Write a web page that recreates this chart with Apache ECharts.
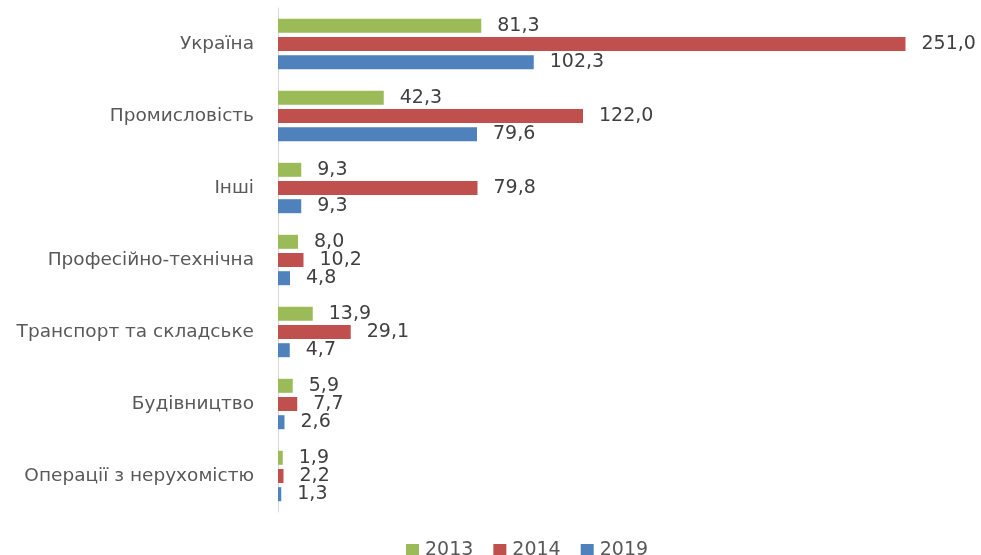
<!DOCTYPE html>
<html>
<head>
<meta charset="utf-8">
<script src="https://cdn.jsdelivr.net/npm/echarts@6/dist/echarts.min.js"></script>
<style>
  html, body { margin: 0; padding: 0; background: #fff; }
  #chart { width: 981px; height: 555px; }
</style>
</head>
<body>
<div id="chart"></div>
<script>
const categories = ['Україна', 'Промисловість', 'Інші', 'Професійно-технічна', 'Транспорт та складське', 'Будівництво', 'Операції з нерухомістю']
const years = ['2013', '2014', '2019']
const values2013 = [81.3, 42.3, 9.3, 8.0, 13.9, 5.9, 1.9]
const values2014 = [251.0, 122.0, 79.8, 10.2, 29.1, 7.7, 2.2]
const values2019 = [102.3, 79.6, 9.3, 4.8, 4.7, 2.6, 1.3]

const colors = ['#9bbb59', '#c0504d', '#4f81bd']
const font = 'DejaVu Sans'

function makeSeries (name, data, color) {
  return {
    name: name,
    type: 'bar',
    data: data,
    barWidth: 14,
    barGap: '30%',
    itemStyle: { color: color },
    label: {
      show: true,
      position: 'right',
      distance: 16,
      color: '#404040',
      fontFamily: font,
      fontSize: 19,
      formatter: p => p.value.toFixed(1).replace('.', ',')
    }
  }
}

const chart = echarts.init(document.getElementById('chart'))
chart.setOption({
  animation: false,
  textStyle: { fontFamily: font },
  grid: {
    left: 278,
    right: 53,
    top: 8,
    bottom: 43
  },
  legend: {
    data: years,
    left: 401,
    top: 536,
    itemWidth: 13,
    itemHeight: 13,
    itemGap: 20,
    icon: 'rect',
    textStyle: { color: '#595959', fontSize: 19, fontFamily: font, padding: [0, 0, 0, 1] }
  },
  xAxis: {
    type: 'value',
    min: 0,
    max: 260,
    show: false
  },
  yAxis: {
    type: 'category',
    data: categories,
    inverse: true,
    axisTick: { show: false },
    axisLine: { lineStyle: { color: '#d9d9d9', width: 1 } },
    axisLabel: {
      color: '#595959',
      fontSize: 18.5,
      fontFamily: font,
      margin: 24
    }
  },
  series: [
    makeSeries(years[0], values2013, colors[0]),
    makeSeries(years[1], values2014, colors[1]),
    makeSeries(years[2], values2019, colors[2])
  ]
})
</script>
</body>
</html>
